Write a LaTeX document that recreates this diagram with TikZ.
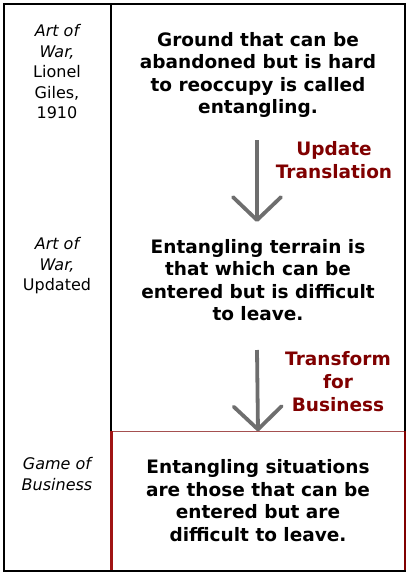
\documentclass[tikz,border=0pt]{standalone}
\usepackage{fontspec}
\setmainfont{DejaVu Sans}
\usetikzlibrary{arrows.meta}
\definecolor{termred}{RGB}{128,0,0}
\definecolor{sidered}{RGB}{160,20,20}
\definecolor{topred}{RGB}{165,80,80}
\definecolor{arrowgray}{RGB}{110,110,110}
\begin{document}
\begin{tikzpicture}[x=1pt,y=-1pt,
  frameline/.style={draw=black, line width=1.8pt},
  source/.style={font=\fontsize{16}{20.5}\selectfont, align=center},
  body/.style={font=\bfseries\fontsize{18.5}{22.5}\selectfont, align=center},
  steplabel/.style={font=\bfseries\fontsize{18.5}{23}\selectfont, text=termred, align=center},
  flow/.style={draw=arrowgray, line width=3.8pt,
    -{Straight Barb[length=23pt,width=48pt,line cap=round,line join=round]}},
  businessbox/.style={minimum width=293pt, minimum height=138pt},
  boxtop/.style={draw=topred, line width=0.9pt},
  boxside/.style={draw=sidered, line width=2.4pt}
]
\useasboundingbox (0,0) rectangle (411,576);

% outer frame and column divider
\draw[frameline] (4,4) rectangle (405,571);
\draw[frameline] (111,4) -- (111,571);

% source column
\node[source] (src1) at (57,72) {\itshape Art of\\\itshape War,\\Lionel\\Giles,\\1910};
\node[source] (src2) at (57,266) {\itshape Art of\\\itshape War,\\Updated};
\node[source] (src3) at (57,474) {\itshape Game of\\\itshape Business};

% translations
\node[body] (t1) at (258,75) {Ground that can be\\abandoned but is hard\\to reoccupy is called\\entangling.};
\node[body] (t2) at (258,280) {Entangling terrain is\\that which can be\\entered but is difficult\\to leave.};

% business box: thin top edge, heavier red sides over the frame
\node[businessbox] (box3) at (258,500.5) {};
\draw[boxtop] (box3.north west) -- (box3.north east);
\draw[boxside] (box3.north west) -- (box3.south west);
\draw[boxside, draw=termred] (box3.north east) -- (box3.south east);
\node[body] (t3) at (box3.center) {Entangling situations\\are those that can be\\entered but are\\difficult to leave.};

% transformation steps
\coordinate (a1top) at (257,140);
\coordinate (a1end) at (257,222);
\coordinate (a2top) at (257,350);
\draw[flow] (a1top) -- (a1end);
\draw[flow] (a2top) -- (box3.north);

\node[steplabel] (l1) at (334,160) {Update\\Translation};
\node[steplabel] (l2) at (338,382) {Transform\\for\\Business};
\end{tikzpicture}
\end{document}
